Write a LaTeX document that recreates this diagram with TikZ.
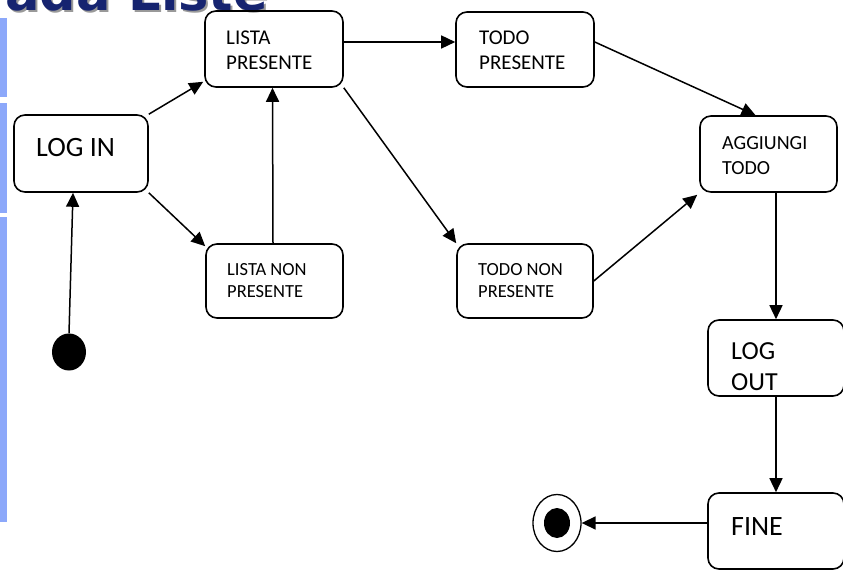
\documentclass[tikz,border=0pt]{standalone}
\usepackage{fontspec}
\setmainfont{Carlito}
\newfontfamily\titlefont{DejaVu Sans}
\usetikzlibrary{arrows.meta,shapes.geometric}
\definecolor{barblue}{RGB}{140,168,250}
\definecolor{navytitle}{RGB}{22,36,112}
\begin{document}
\begin{tikzpicture}[x=1pt,y=-1pt,
  box/.style={draw, line width=1.6pt, rounded corners=11pt, inner sep=0pt},
  lbl/.style={anchor=base west, inner sep=0pt},
  arr/.style={line width=1.5pt, -{Triangle[length=14pt,width=13pt]}},
  bigfont/.style={font=\fontsize{28}{30}\selectfont},
  midfont/.style={font=\fontsize{21}{25}\selectfont},
  smallfont/.style={font=\fontsize{18.5}{22}\selectfont}]
\useasboundingbox (0,0) rectangle (843,577);
\clip (0,0) rectangle (843,577);
% title (cropped) and side bar
\node[anchor=base east, inner sep=0pt, text=black!40, font=\titlefont\bfseries\fontsize{51}{51}\selectfont] (tshadow) at (270,13) {ada Liste};
\node[anchor=base east, inner sep=0pt, text=navytitle, font=\titlefont\bfseries\fontsize{51}{51}\selectfont] (title) at (268,11) {ada Liste};
\fill[barblue] (0,18) rectangle (7,97);
\fill[barblue] (0,103) rectangle (7,213);
\fill[barblue] (0,217) rectangle (7,522);
% boxes
\node[box, minimum width=134pt, minimum height=77pt] (login) at (81,153.5) {};
\node[box, minimum width=138pt, minimum height=76pt] (lp) at (274,49) {};
\node[box, minimum width=138pt, minimum height=75pt] (tp) at (525,49.5) {};
\node[box, minimum width=137pt, minimum height=76pt] (agg) at (768.5,154) {};
\node[box, minimum width=137pt, minimum height=74pt] (lnp) at (274.5,281) {};
\node[box, minimum width=136pt, minimum height=74pt] (tnp) at (525,281) {};
\node[box, minimum width=136pt, minimum height=76pt] (logout) at (776,358) {};
\node[box, minimum width=136pt, minimum height=76pt] (fine) at (776,531) {};
% states
\node[ellipse, fill=black, inner sep=0pt, minimum width=34pt, minimum height=37pt] (init) at (69,352) {};
\node[ellipse, draw, line width=1.3pt, inner sep=0pt, minimum width=48pt, minimum height=57pt] (final) at (557,523) {};
\node[ellipse, fill=black, inner sep=0pt, minimum width=26pt, minimum height=30pt] (finaldot) at (557,523) {};
% labels
\node[lbl, bigfont] (tlogin) at (36,157) {LOG IN};
\node[lbl, midfont] (tlp) at (226,45) {\parbox[t]{120pt}{LISTA\\PRESENTE}};
\node[lbl, midfont] (ttp) at (479,45) {\parbox[t]{120pt}{TODO\\PRESENTE}};
\node[lbl, font=\fontsize{20}{25}\selectfont] (tagg) at (722,150) {\parbox[t]{120pt}{AGGIUNGI\\TODO}};
\node[lbl, smallfont] (tlnp) at (227,276) {\parbox[t]{120pt}{LISTA NON\\PRESENTE}};
\node[lbl, smallfont] (ttnp) at (478,276) {\parbox[t]{120pt}{TODO NON\\PRESENTE}};
\node[lbl, font=\fontsize{26}{31}\selectfont] (tlogout) at (731,359) {\parbox[t]{120pt}{LOG\\OUT}};
\node[lbl, bigfont] (tfine) at (731,535) {FINE};
% connectors
\draw[arr] (init.north) -- ([xshift=-8pt]login.south);
\draw[arr] (login.north east) -- ([xshift=-1pt,yshift=6pt]lp.south west);
\draw[arr] (login.south east) -- ([yshift=-3pt]lnp.north west);
\draw[arr] ([xshift=-1.5pt]lnp.north) -- ([xshift=-1.5pt]lp.south);
\draw[arr] ([yshift=7pt]lp.east) -- ([yshift=7.5pt]tp.west);
\draw[arr] (lp.south east) -- (tnp.north west);
\draw[arr] ([yshift=7.5pt]tp.east) -- ([xshift=-13pt]agg.north);
\draw[arr] (tnp.east) -- ([xshift=-2pt,yshift=-2pt]agg.south west);
\draw[arr] ([xshift=7.5pt]agg.south) -- (logout.north);
\draw[arr] (logout.south) -- (fine.north);
\draw[arr] (fine.west |- final.east) -- (final.east);
\end{tikzpicture}
\end{document}
